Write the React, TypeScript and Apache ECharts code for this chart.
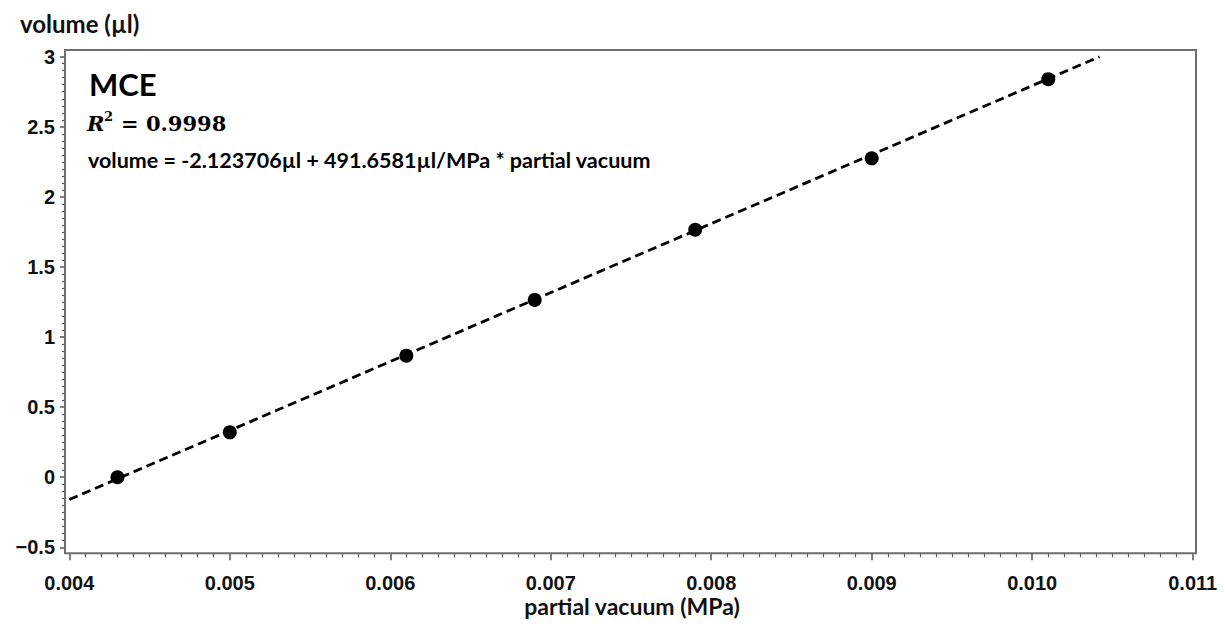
import React, { useEffect, useRef } from "react";
import * as echarts from "echarts";

const xData = [0.0043, 0.005, 0.0061, 0.0069, 0.0079, 0.009, 0.0101];
const yData = [0.0, 0.32, 0.867, 1.265, 1.765, 2.275, 2.84];
const fitX = [0.004, 0.01042];
const fitY = [-0.159, 3.0];

const xTitle = "partial vacuum (MPa)";
const yTitle = "volume (µl)";
const panelTitle = "MCE";
const r2Value = "= 0.9998";
const equation = "volume = -2.123706µl + 491.6581µl/MPa * partial vacuum";

export default function App() {
  const ref = useRef<HTMLDivElement>(null);
  useEffect(() => {
    if (!ref.current) return;
    const chart = echarts.init(ref.current, undefined, { renderer: "svg" });
    const labelFont = "'Liberation Sans', Arial, sans-serif";
    const titleFont = "Lato, 'Open Sans', sans-serif";
    chart.setOption({
      animation: false,
      backgroundColor: "#ffffff",
      grid: { left: 69.3, right: 32.3, top: 56.7, bottom: 85.7, containLabel: false },
      xAxis: {
        type: "value",
        min: 0.004,
        max: 0.011,
        interval: 0.001,
        offset: 6,
        axisLine: { show: false, onZero: false },
        axisTick: { show: true, length: 7, lineStyle: { color: "#555", width: 1.5 } },
        minorTick: { show: true, splitNumber: 10, length: 4, lineStyle: { color: "#555", width: 1.2 } },
        splitLine: { show: false },
        minorSplitLine: { show: false },
        axisLabel: {
          margin: 20,
          color: "#111",
          fontFamily: labelFont,
          fontWeight: "bold",
          fontSize: 20,
          formatter: (v: number) => v.toFixed(3),
        },
      },
      yAxis: {
        type: "value",
        min: -0.5,
        max: 3,
        interval: 0.5,
        offset: 4.3,
        axisLine: { show: false, onZero: false },
        axisTick: { show: true, length: 5, lineStyle: { color: "#555", width: 1.5 } },
        minorTick: { show: true, splitNumber: 10, length: 3, lineStyle: { color: "#555", width: 1.2 } },
        splitLine: { show: false },
        minorSplitLine: { show: false },
        axisLabel: {
          margin: 10,
          color: "#111",
          fontFamily: labelFont,
          fontWeight: "bold",
          fontSize: 20,
          formatter: (v: number) => (v < 0 ? "\u2212" + String(Math.abs(v)) : String(v)),
        },
      },
      series: [
        {
          type: "line",
          data: fitX.map((x, i) => [x, fitY[i]]),
          showSymbol: false,
          symbol: "none",
          lineStyle: { color: "#000", width: 2.8, type: [9, 5] },
          silent: true,
          z: 2,
        },
        {
          type: "scatter",
          data: xData.map((x, i) => [x, yData[i]]),
          symbol: "circle",
          symbolSize: 14,
          itemStyle: { color: "#000", opacity: 1 },
          z: 3,
        },
      ],
      graphic: [
        {
          type: "rect",
          shape: { x: 65, y: 50, width: 1131, height: 503.3 },
          style: { fill: "none", stroke: "#6f6f6f", lineWidth: 2 },
          z: 10,
        },
        {
          type: "text",
          x: 20,
          y: 23,
          style: {
            text: yTitle,
            fontFamily: titleFont,
            fontWeight: "bold",
            fontSize: 24,
            fill: "#111",
            verticalAlign: "middle",
          },
        },
        {
          type: "text",
          x: 632,
          y: 606,
          style: {
            text: xTitle,
            fontFamily: titleFont,
            fontWeight: "bold",
            fontSize: 23,
            fill: "#111",
            align: "center",
            verticalAlign: "middle",
          },
        },
        {
          type: "text",
          x: 89,
          y: 84,
          style: {
            text: panelTitle,
            fontFamily: titleFont,
            fontWeight: "bold",
            fontSize: 31,
            fill: "#000",
            verticalAlign: "middle",
          },
        },
        {
          type: "text",
          x: 87,
          y: 123,
          style: {
            text: "R",
            fontFamily: "'DejaVu Serif', serif",
            fontStyle: "italic",
            fontWeight: "bold",
            fontSize: 21,
            fill: "#000",
            verticalAlign: "middle",
          },
        },
        {
          type: "text",
          x: 104,
          y: 116,
          style: {
            text: "2",
            fontFamily: "'DejaVu Serif', serif",
            fontWeight: "bold",
            fontSize: 13,
            fill: "#000",
            verticalAlign: "middle",
          },
        },
        {
          type: "text",
          x: 121,
          y: 123,
          style: {
            text: r2Value,
            fontFamily: "'DejaVu Serif', serif",
            fontWeight: "bold",
            fontSize: 21,
            fill: "#000",
            verticalAlign: "middle",
          },
        },
        {
          type: "text",
          x: 88,
          y: 160,
          style: {
            text: equation,
            fontFamily: titleFont,
            fontWeight: "bold",
            fontSize: 21.5,
            fill: "#000",
            verticalAlign: "middle",
          },
        },
      ],
    });
    return () => chart.dispose();
  }, []);
  return (
    <div
      ref={ref}
      style={{ position: "absolute", left: 0, top: 0, width: 1225, height: 633, background: "#fff" }}
    />
  );
}
